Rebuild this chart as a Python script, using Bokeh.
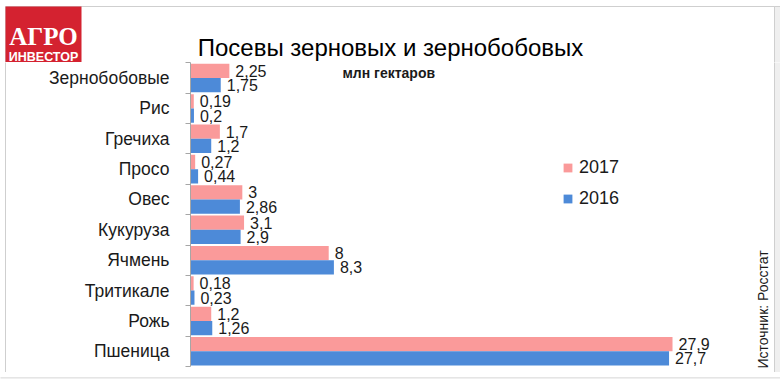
from math import pi
from bokeh.plotting import figure
from bokeh.layouts import column, row
from bokeh.models import (ColumnDataSource, Range1d, FixedTicker, Label, Legend,
                          LegendItem, BoxAnnotation)
from bokeh.embed import file_html
from bokeh.resources import INLINE
from bokeh.core.properties import value

categories = ["Зернобобовые", "Рис", "Гречиха", "Просо", "Овес", "Кукуруза",
              "Ячмень", "Тритикале", "Рожь", "Пшеница"]
v2017 = [2.25, 0.19, 1.7, 0.27, 3, 3.1, 8, 0.18, 1.2, 27.9]
v2016 = [1.75, 0.2, 1.2, 0.44, 2.86, 2.9, 8.3, 0.23, 1.26, 27.7]
years = ["2017", "2016"]
title_text = "Посевы зерновых и зернобобовых"
unit_text = "млн гектаров"
source_text = "Источник: Росстат"
logo_top = "АГРО"
logo_bottom = "ИНВЕСТОР"

PINK = "#fa9a9a"
BLUE = "#4d8ad8"
RED = "#d42230"
TXT = "#1a1a1a"
EDGE = "#cfcfcf"
OUT = "#efefef"
FONT = "Liberation Sans"

W = 780
HH = 62           # header height
HF = 7            # footer height
HM = 379 - HH - HF  # main figure height
SW = 6            # left strip width


def scr(**kw):
    d = {}
    for k in ("left", "right", "top", "bottom"):
        d[k + "_units"] = "screen"
    d.update(kw)
    return d


def blank(w, h):
    f = figure(width=w, height=h, output_backend="svg", toolbar_location=None,
               x_axis_location=None, y_axis_location=None,
               x_range=Range1d(0, 1), y_range=Range1d(0, 1),
               min_border_left=0, min_border_right=0, min_border_top=0,
               min_border_bottom=0)
    f.frame_align = False
    f.outline_line_color = None
    f.grid.visible = False
    return f


# ---------------- header ----------------
hdr = blank(W, HH)
hdr.add_layout(BoxAnnotation(**scr(left=774, right=800, bottom=-10, top=HH - 6,
                                   fill_color=OUT, fill_alpha=1,
                                   line_color=EDGE, line_alpha=1)))
hdr.add_layout(BoxAnnotation(**scr(left=5, right=774, bottom=-10, top=HH - 6,
                                   fill_alpha=0, line_color=EDGE, line_alpha=1)))
hdr.add_layout(BoxAnnotation(**scr(left=5, right=81, bottom=-2, top=HH - 6,
                                   fill_color=RED, fill_alpha=1, line_color=None)))
hdr.add_layout(Label(x=43, y=HH - 36, x_units="screen", y_units="screen",
                     text=logo_top, text_align="center", text_baseline="alphabetic",
                     text_font="Liberation Serif", text_font_style="bold",
                     text_font_size="25px", text_color="white"))
hdr.add_layout(Label(x=43, y=HH - 56, x_units="screen", y_units="screen",
                     text=logo_bottom, text_align="center", text_baseline="alphabetic",
                     text_font=FONT, text_font_style="bold",
                     text_font_size="12.5px", text_color="white"))
hdr.add_layout(Label(x=390, y=HH - 47, x_units="screen", y_units="screen",
                     text=title_text, text_align="center", text_baseline="alphabetic",
                     text_font=FONT, text_font_size="24px", text_color="black"))

# ---------------- left strip & footer (frame border) ----------------
strip = blank(SW, HM)
strip.add_layout(BoxAnnotation(**scr(left=5, right=50, bottom=-10, top=HM + 10,
                                     fill_alpha=0, line_color=EDGE, line_alpha=1)))

ftr = blank(W, HF)
ftr.add_layout(BoxAnnotation(**scr(left=-10, right=800, bottom=-10, top=HF,
                                   fill_color=OUT, fill_alpha=1,
                                   line_color=EDGE, line_alpha=1)))

# ---------------- main chart ----------------
n = len(categories)
centers = [n - 0.5 - i for i in range(n)]


def fmt(v):
    return f"{v:g}".replace(".", ",")


src = ColumnDataSource(dict(
    y17=[c + 0.235 for c in centers],
    y16=[c - 0.235 for c in centers],
    v17=v2017, v16=v2016,
    l17=[fmt(v) for v in v2017],
    l16=[fmt(v) for v in v2016],
))

p = figure(width=W - SW, height=HM, output_backend="svg", toolbar_location=None,
           x_range=Range1d(0, 34.15), y_range=Range1d(-0.2, n + 0.013),
           x_axis_location=None,
           min_border_left=190 - SW, min_border_right=0,
           min_border_top=0, min_border_bottom=0)
p.frame_align = False
p.outline_line_color = None
p.grid.visible = False

r17 = p.hbar(y="y17", left=0, right="v17", height=0.47, fill_color=PINK,
             line_color=None, source=src)
r16 = p.hbar(y="y16", left=0, right="v16", height=0.47, fill_color=BLUE,
             line_color=None, source=src)

for xcol, ycol, lcol in (("v17", "y17", "l17"), ("v16", "y16", "l16")):
    p.text(x=xcol, y=ycol, text=lcol, source=src, x_offset=6,
           text_baseline="middle", text_align="left",
           text_font=value(FONT), text_font_size="16px", text_color=TXT)

yax = p.yaxis[0]
yax.ticker = FixedTicker(ticks=centers, minor_ticks=list(range(n + 1)))
yax.bounds = (0, n)
yax.major_label_overrides = {c: name for c, name in zip(centers, categories)}
yax.major_tick_in = 0
yax.major_tick_out = 0
yax.minor_tick_in = 0
yax.minor_tick_out = 5
yax.axis_line_color = "#a6a6a6"
yax.minor_tick_line_color = "#a6a6a6"
yax.major_label_text_font = FONT
yax.major_label_text_font_size = "17.5px"
yax.major_label_text_color = TXT
yax.major_label_standoff = 16

frame_bottom = HH + HM  # 372
legend = Legend(items=[LegendItem(label=years[0], renderers=[r17]),
                       LegendItem(label=years[1], renderers=[r16])],
                location=(372, frame_bottom - 209), orientation="vertical")
legend.background_fill_alpha = 0
legend.border_line_color = None
legend.padding = 0
legend.margin = 0
legend.spacing = 10
legend.glyph_width = 11
legend.glyph_height = 11
legend.label_height = 20
legend.label_standoff = 6
legend.label_text_font = FONT
legend.label_text_font_size = "18px"
legend.label_text_color = TXT
p.add_layout(legend)

# right edge of the chart frame (frame-relative screen units)
p.add_layout(BoxAnnotation(**scr(left=774 - 190, right=700, bottom=-10, top=400,
                                 fill_color=OUT, fill_alpha=1,
                                 line_color=EDGE, line_alpha=1)))

p.add_layout(Label(x=342 - 190, y=frame_bottom - 72, x_units="screen",
                   y_units="screen", text=unit_text, text_align="left",
                   text_baseline="middle", text_font=FONT,
                   text_font_style="bold", text_font_size="14px", text_color=TXT))
p.add_layout(Label(x=762 - 190, y=frame_bottom - 368, x_units="screen",
                   y_units="screen", text=source_text, angle=pi / 2,
                   text_align="left", text_baseline="alphabetic",
                   text_font=FONT, text_font_size="14px", text_color=TXT))

layout = column(hdr, row(strip, p, spacing=0), ftr, spacing=0)
open("out.html", "w").write(file_html(layout, INLINE))
